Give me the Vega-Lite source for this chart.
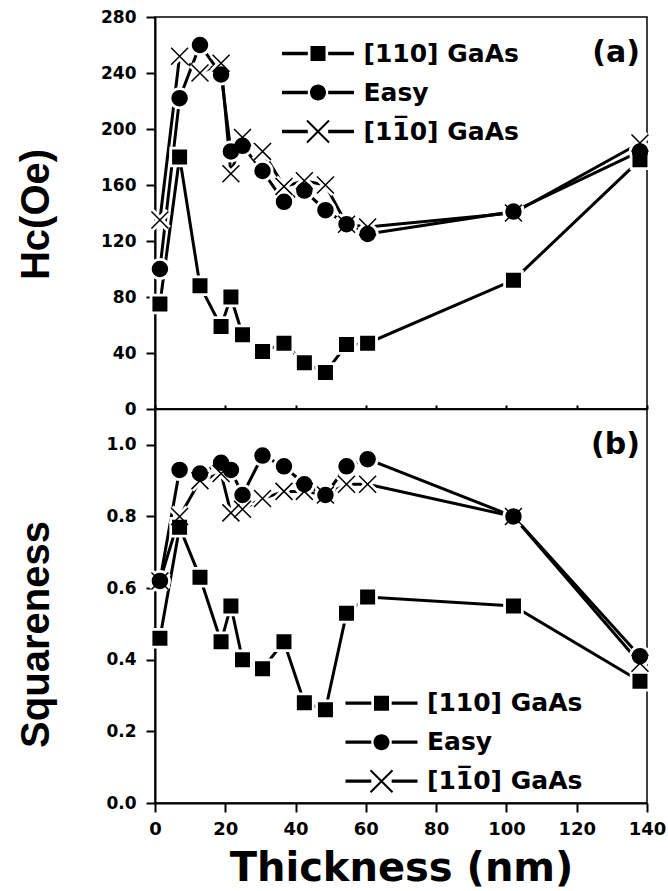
{
  "$schema": "https://vega.github.io/schema/vega-lite/v6.json",
  "autosize": {"type": "pad"},
  "padding": {"left": 15, "top": 7, "right": 0, "bottom": 0},
  "background": "white",
  "spacing": 0,
  "bounds": "flush",
  "config": {
    "view": {"stroke": "black", "strokeWidth": 1.5},
    "axis": {"grid": false, "domainColor": "black", "domainWidth": 2, "tickColor": "black", "tickWidth": 2, "labelColor": "black", "labelFont": "DejaVu Sans", "labelFontWeight": "bold", "titleColor": "black"},
    "concat": {"spacing": 0}
  },
  "datasets": {
    "pts": [
      {"p":"a","s":"C","t":1.4,"v":135},{"p":"a","s":"C","t":7,"v":252},{"p":"a","s":"C","t":12.8,"v":240},{"p":"a","s":"C","t":18.8,"v":247},{"p":"a","s":"C","t":21.6,"v":168},{"p":"a","s":"C","t":24.9,"v":194},{"p":"a","s":"C","t":30.6,"v":184},{"p":"a","s":"C","t":36.7,"v":159},{"p":"a","s":"C","t":42.5,"v":163},{"p":"a","s":"C","t":48.5,"v":160},{"p":"a","s":"C","t":54.5,"v":132},{"p":"a","s":"C","t":60.5,"v":130},{"p":"a","s":"C","t":102,"v":140},{"p":"a","s":"C","t":138,"v":190},
      {"p":"a","s":"A","t":1.4,"v":75},{"p":"a","s":"A","t":7,"v":180},{"p":"a","s":"A","t":12.8,"v":88},{"p":"a","s":"A","t":18.8,"v":59},{"p":"a","s":"A","t":21.6,"v":80},{"p":"a","s":"A","t":24.9,"v":53},{"p":"a","s":"A","t":30.6,"v":41},{"p":"a","s":"A","t":36.7,"v":47},{"p":"a","s":"A","t":42.5,"v":33},{"p":"a","s":"A","t":48.5,"v":26},{"p":"a","s":"A","t":54.5,"v":46},{"p":"a","s":"A","t":60.5,"v":47},{"p":"a","s":"A","t":102,"v":92},{"p":"a","s":"A","t":138,"v":178},
      {"p":"a","s":"B","t":1.4,"v":100},{"p":"a","s":"B","t":7,"v":222},{"p":"a","s":"B","t":12.8,"v":260},{"p":"a","s":"B","t":18.8,"v":239},{"p":"a","s":"B","t":21.6,"v":184},{"p":"a","s":"B","t":24.9,"v":188},{"p":"a","s":"B","t":30.6,"v":170},{"p":"a","s":"B","t":36.7,"v":148},{"p":"a","s":"B","t":42.5,"v":156},{"p":"a","s":"B","t":48.5,"v":142},{"p":"a","s":"B","t":54.5,"v":132},{"p":"a","s":"B","t":60.5,"v":125},{"p":"a","s":"B","t":102,"v":141},{"p":"a","s":"B","t":138,"v":184},
      {"p":"b","s":"C","t":1.4,"v":0.62},{"p":"b","s":"C","t":7,"v":0.80},{"p":"b","s":"C","t":12.8,"v":0.90},{"p":"b","s":"C","t":18.8,"v":0.92},{"p":"b","s":"C","t":21.6,"v":0.81},{"p":"b","s":"C","t":24.9,"v":0.82},{"p":"b","s":"C","t":30.6,"v":0.85},{"p":"b","s":"C","t":36.7,"v":0.87},{"p":"b","s":"C","t":42.5,"v":0.87},{"p":"b","s":"C","t":48.5,"v":0.86},{"p":"b","s":"C","t":54.5,"v":0.89},{"p":"b","s":"C","t":60.5,"v":0.89},{"p":"b","s":"C","t":102,"v":0.80},{"p":"b","s":"C","t":138,"v":0.39},
      {"p":"b","s":"A","t":1.4,"v":0.46},{"p":"b","s":"A","t":7,"v":0.77},{"p":"b","s":"A","t":12.8,"v":0.63},{"p":"b","s":"A","t":18.8,"v":0.45},{"p":"b","s":"A","t":21.6,"v":0.55},{"p":"b","s":"A","t":24.9,"v":0.40},{"p":"b","s":"A","t":30.6,"v":0.375},{"p":"b","s":"A","t":36.7,"v":0.45},{"p":"b","s":"A","t":42.5,"v":0.28},{"p":"b","s":"A","t":48.5,"v":0.26},{"p":"b","s":"A","t":54.5,"v":0.53},{"p":"b","s":"A","t":60.5,"v":0.575},{"p":"b","s":"A","t":102,"v":0.55},{"p":"b","s":"A","t":138,"v":0.34},
      {"p":"b","s":"B","t":1.4,"v":0.62},{"p":"b","s":"B","t":7,"v":0.93},{"p":"b","s":"B","t":12.8,"v":0.92},{"p":"b","s":"B","t":18.8,"v":0.95},{"p":"b","s":"B","t":21.6,"v":0.93},{"p":"b","s":"B","t":24.9,"v":0.86},{"p":"b","s":"B","t":30.6,"v":0.97},{"p":"b","s":"B","t":36.7,"v":0.94},{"p":"b","s":"B","t":42.5,"v":0.89},{"p":"b","s":"B","t":48.5,"v":0.86},{"p":"b","s":"B","t":54.5,"v":0.94},{"p":"b","s":"B","t":60.5,"v":0.96},{"p":"b","s":"B","t":102,"v":0.80},{"p":"b","s":"B","t":138,"v":0.41}
    ]
  },
  "vconcat": [
    {
      "width": 492,
      "height": 392,
      "resolve": {"scale": {"shape": "independent"}},
      "layer": [
        {
          "data": {"name": "pts"},
          "transform": [{"filter": "datum.p == 'a'"}],
          "mark": {"type": "line", "color": "black", "strokeWidth": 3},
          "encoding": {
            "x": {"field": "t", "type": "quantitative", "scale": {"domain": [0, 140], "nice": false},
                  "axis": {"values": [0,10,20,30,40,50,60,70,80,90,100,110,120,130,140], "labels": false, "tickSize": -4, "title": null, "domainWidth": 1.5}},
            "y": {"field": "v", "type": "quantitative", "scale": {"domain": [0, 280], "nice": false},
                  "axis": {"values": [0,20,40,60,80,100,120,140,160,180,200,220,240,260,280],
                           "labelExpr": "datum.value % 40 === 0 ? datum.label : ''",
                           "tickSize": {"condition": {"test": "datum.value % 40 !== 0", "value": 5}, "value": 9},
                           "labelFontSize": 17, "labelPadding": 10,
                           "title": "H\u1d04(Oe)", "titleFont": "Liberation Sans Narrow, Liberation Sans, sans-serif", "titleFontWeight": "bold", "titleFontSize": 40,
                           "titleAngle": 270, "titleX": -107, "titleY": 197, "titleAlign": "center", "titleBaseline": "alphabetic"}},
            "detail": {"field": "s"}
          }
        },
        {
          "data": {"name": "pts"},
          "transform": [{"filter": "datum.p == 'a'"}],
          "mark": {"type": "point", "filled": true, "fill": "white", "stroke": "white", "strokeWidth": 7, "size": 256, "opacity": 1},
          "encoding": {
            "x": {"field": "t", "type": "quantitative"},
            "y": {"field": "v", "type": "quantitative"},
            "shape": {"field": "s", "type": "nominal", "legend": null,
                      "scale": {"domain": ["A","B","C"], "range": ["M-0.844,-0.844H0.844V0.844H-0.844Z", "M-0.9375,0A0.9375,0.9375,0,1,1,0.9375,0A0.9375,0.9375,0,1,1,-0.9375,0Z", "M-1.06,-1.06L1.06,1.06M-1.06,1.06L1.06,-1.06"]}}
          }
        },
        {
          "data": {"name": "pts"},
          "transform": [{"filter": "datum.p == 'a'"}],
          "mark": {"type": "point", "filled": true, "fill": "black", "stroke": "black", "strokeWidth": 1.5, "size": 256, "opacity": 1},
          "encoding": {
            "x": {"field": "t", "type": "quantitative"},
            "y": {"field": "v", "type": "quantitative"},
            "shape": {"field": "s", "type": "nominal", "legend": null,
                      "scale": {"domain": ["A","B","C"], "range": ["M-0.844,-0.844H0.844V0.844H-0.844Z", "M-0.9375,0A0.9375,0.9375,0,1,1,0.9375,0A0.9375,0.9375,0,1,1,-0.9375,0Z", "M-1.06,-1.06L1.06,1.06M-1.06,1.06L1.06,-1.06"]}}
          }
        },
        {
          "data": {"values": []},
          "mark": {"type": "point", "filled": true, "fill": "black", "opacity": 1},
          "encoding": {
            "shape": {"field": "s", "type": "nominal",
                      "scale": {"domain": ["A","B","C"], "range": [
                        "M-3,-0.1375H-0.85V0.1375H-3ZM0.85,-0.1375H3V0.1375H0.85ZM-0.625,-0.625H0.625V0.625H-0.625Z",
                        "M-3,-0.1375H-0.85V0.1375H-3ZM0.85,-0.1375H3V0.1375H0.85ZM-0.667,0A0.667,0.667,0,1,1,0.667,0A0.667,0.667,0,1,1,-0.667,0Z",
                        "M-3,-0.1375H-0.85V0.1375H-3ZM0.85,-0.1375H3V0.1375H0.85ZM-0.858,-0.976L0.976,0.858L0.858,0.976L-0.976,-0.858ZM-0.858,0.976L-0.976,0.858L0.858,-0.976L0.976,-0.858Z"]},
                      "legend": {"orient": "none", "legendX": 150.5, "legendY": 24, "title": null, "padding": 0,
                                 "symbolSize": 576, "symbolFillColor": "black", "symbolStrokeWidth": 0, "symbolOpacity": 1,
                                 "labelFont": "DejaVu Sans", "labelFontWeight": "bold", "labelFontSize": 25, "labelColor": "black",
                                 "labelOffset": 33, "labelLimit": 500, "rowPadding": 13,
                                 "labelExpr": "datum.value == 'A' ? '[110] GaAs' : datum.value == 'B' ? 'Easy' : '[11\u03050] GaAs'",
                                 "encode": {"symbols": {"update": {"fill": {"value": "black"}, "opacity": {"value": 1}, "size": {"value": 576}}}}}}
          }
        },
        {
          "data": {"values": [{}]},
          "mark": {"type": "text", "align": "right", "baseline": "middle", "font": "DejaVu Sans", "fontWeight": "bold", "fontSize": 30, "color": "black"},
          "encoding": {
            "x": {"datum": 138, "type": "quantitative"},
            "y": {"datum": 254, "type": "quantitative"},
            "text": {"value": "(a)"}
          }
        }
      ]
    },
    {
      "width": 492,
      "height": 394,
      "resolve": {"scale": {"shape": "independent"}},
      "layer": [
        {
          "data": {"name": "pts"},
          "transform": [{"filter": "datum.p == 'b'"}],
          "mark": {"type": "line", "color": "black", "strokeWidth": 3},
          "encoding": {
            "x": {"field": "t", "type": "quantitative", "scale": {"domain": [0, 140], "nice": false},
                  "axis": {"values": [0,10,20,30,40,50,60,70,80,90,100,110,120,130,140],
                           "labelExpr": "datum.value % 20 === 0 ? datum.label : ''",
                           "tickSize": {"condition": {"test": "datum.value % 20 !== 0", "value": 5}, "value": 9},
                           "labelFontSize": 18, "labelPadding": 8, "labelFlush": false,
                           "title": "Thickness (nm)", "titleFont": "DejaVu Sans", "titleFontWeight": "bold", "titleFontSize": 40,
                           "titleY": 77, "titleBaseline": "alphabetic"}},
            "y": {"field": "v", "type": "quantitative", "scale": {"domain": [0, 1.1], "nice": false},
                  "axis": {"values": [0,0.1,0.2,0.3,0.4,0.5,0.6,0.7,0.8,0.9,1.0], "format": ".1f",
                           "labelExpr": "round(datum.value*10) % 2 === 0 ? datum.label : ''",
                           "tickSize": {"condition": {"test": "round(datum.value*10) % 2 !== 0", "value": 5}, "value": 9},
                           "labelFontSize": 17, "labelPadding": 10,
                           "title": "Squareness", "titleFont": "Liberation Sans Narrow, Liberation Sans, sans-serif", "titleFontWeight": "bold", "titleFontSize": 40,
                           "titleAngle": 270, "titleX": -107, "titleY": 225, "titleAlign": "center", "titleBaseline": "alphabetic"}},
            "detail": {"field": "s"}
          }
        },
        {
          "data": {"name": "pts"},
          "transform": [{"filter": "datum.p == 'b'"}],
          "mark": {"type": "point", "filled": true, "fill": "white", "stroke": "white", "strokeWidth": 7, "size": 256, "opacity": 1},
          "encoding": {
            "x": {"field": "t", "type": "quantitative"},
            "y": {"field": "v", "type": "quantitative"},
            "shape": {"field": "s", "type": "nominal", "legend": null,
                      "scale": {"domain": ["A","B","C"], "range": ["M-0.844,-0.844H0.844V0.844H-0.844Z", "M-0.9375,0A0.9375,0.9375,0,1,1,0.9375,0A0.9375,0.9375,0,1,1,-0.9375,0Z", "M-1.06,-1.06L1.06,1.06M-1.06,1.06L1.06,-1.06"]}}
          }
        },
        {
          "data": {"name": "pts"},
          "transform": [{"filter": "datum.p == 'b'"}],
          "mark": {"type": "point", "filled": true, "fill": "black", "stroke": "black", "strokeWidth": 1.5, "size": 256, "opacity": 1},
          "encoding": {
            "x": {"field": "t", "type": "quantitative"},
            "y": {"field": "v", "type": "quantitative"},
            "shape": {"field": "s", "type": "nominal", "legend": null,
                      "scale": {"domain": ["A","B","C"], "range": ["M-0.844,-0.844H0.844V0.844H-0.844Z", "M-0.9375,0A0.9375,0.9375,0,1,1,0.9375,0A0.9375,0.9375,0,1,1,-0.9375,0Z", "M-1.06,-1.06L1.06,1.06M-1.06,1.06L1.06,-1.06"]}}
          }
        },
        {
          "data": {"values": []},
          "mark": {"type": "point", "filled": true, "fill": "black", "opacity": 1},
          "encoding": {
            "shape": {"field": "s", "type": "nominal",
                      "scale": {"domain": ["A","B","C"], "range": [
                        "M-3,-0.1375H-0.85V0.1375H-3ZM0.85,-0.1375H3V0.1375H0.85ZM-0.625,-0.625H0.625V0.625H-0.625Z",
                        "M-3,-0.1375H-0.85V0.1375H-3ZM0.85,-0.1375H3V0.1375H0.85ZM-0.667,0A0.667,0.667,0,1,1,0.667,0A0.667,0.667,0,1,1,-0.667,0Z",
                        "M-3,-0.1375H-0.85V0.1375H-3ZM0.85,-0.1375H3V0.1375H0.85ZM-0.858,-0.976L0.976,0.858L0.858,0.976L-0.976,-0.858ZM-0.858,0.976L-0.976,0.858L0.858,-0.976L0.976,-0.858Z"]},
                      "legend": {"orient": "none", "legendX": 214, "legendY": 281.7, "title": null, "padding": 0,
                                 "symbolSize": 576, "symbolFillColor": "black", "symbolStrokeWidth": 0, "symbolOpacity": 1,
                                 "labelFont": "DejaVu Sans", "labelFontWeight": "bold", "labelFontSize": 25, "labelColor": "black",
                                 "labelOffset": 33, "labelLimit": 500, "rowPadding": 13,
                                 "labelExpr": "datum.value == 'A' ? '[110] GaAs' : datum.value == 'B' ? 'Easy' : '[11\u03050] GaAs'",
                                 "encode": {"symbols": {"update": {"fill": {"value": "black"}, "opacity": {"value": 1}, "size": {"value": 576}}}}}}
          }
        },
        {
          "data": {"values": [{}]},
          "mark": {"type": "text", "align": "right", "baseline": "middle", "font": "DejaVu Sans", "fontWeight": "bold", "fontSize": 30, "color": "black"},
          "encoding": {
            "x": {"datum": 138, "type": "quantitative"},
            "y": {"datum": 1.0, "type": "quantitative"},
            "text": {"value": "(b)"}
          }
        }
      ]
    }
  ]
}
